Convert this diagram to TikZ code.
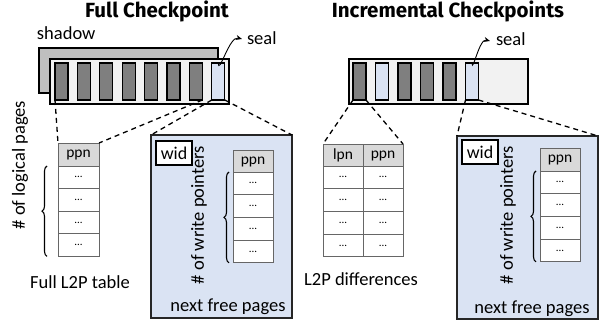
\documentclass[tikz,border=0pt]{standalone}
\usepackage{fontspec}
\setmainfont{Carlito}
\newfontfamily\ttlfamily{Fira Sans}
\usetikzlibrary{decorations.pathreplacing,arrows.meta}
\definecolor{lightblue}{HTML}{DAE3F3}
\definecolor{darkcell}{HTML}{7F7F7F}
\definecolor{shadowgray}{HTML}{BFBFBF}
\definecolor{framegray}{HTML}{F2F2F2}
\definecolor{headgray}{HTML}{D9D9D9}
\newcommand{\titlefnt}{\ttlfamily\fontsize{20.5}{24}\selectfont\bfseries}
\newcommand{\labfnt}{\fontsize{18.5}{21}\selectfont}
\newcommand{\widfnt}{\fontsize{18}{20}\selectfont}
\newcommand{\tabfnt}{\fontsize{15.5}{17}\selectfont}
\newcommand{\dotfnt}{\fontsize{11}{12}\selectfont}
\begin{document}
\begin{tikzpicture}[x=1pt,y=-1pt,
  every node/.style={inner sep=0pt, outer sep=0pt},
  framebox/.style={draw=black, line width=1.3pt, anchor=north west, minimum width=179pt, minimum height=45pt},
  cellbox/.style={draw=black, line width=1.3pt, minimum width=13pt, minimum height=37pt, anchor=north west},
  darkc/.style={cellbox, fill=darkcell},
  lightc/.style={cellbox, fill=lightblue},
  thead/.style={draw=black!60, line width=0.7pt, fill=headgray, minimum height=23pt, anchor=north west, font=\tabfnt},
  trow/.style={draw=black!60, line width=0.7pt, fill=white, minimum height=22.6pt, anchor=north west, font=\dotfnt},
  bluebox/.style={draw=black!85, line width=1.2pt, fill=lightblue, anchor=north west, minimum width=141pt, minimum height=183pt},
  widbox/.style={draw=black, line width=1.3pt, fill=white, anchor=north west, minimum width=36pt, minimum height=24pt, font=\widfnt},
  zoomline/.style={line width=1.3pt, dash pattern=on 5pt off 4pt},
  bracedeco/.style={decorate, decoration={brace, amplitude=5pt}, line width=1.1pt},
  sealarrow/.style={line width=0.9pt, -{Stealth[length=6pt,width=5pt]}},
  lab/.style={font=\labfnt},
  ttl/.style={font=\titlefnt}
]
\useasboundingbox (0,0) rectangle (606,326);

% titles
\node[ttl, anchor=base] (t1) at (157,17.5) {Full Checkpoint};
\node[ttl, anchor=base] (t2) at (448,17.5) {Incremental Checkpoints};

% ---------- Full checkpoint ----------
\node[lab, anchor=base west] (shadowlab) at (37,40) {shadow};
\node[framebox, fill=shadowgray] (S) at (39,48) {};
\node[framebox, fill=framegray] (F) at (50,59) {};
\foreach \i in {1,...,7}
  \node[darkc] (c\i) at ({55+22.4*(\i-1)},63) {};
\node[lightc] (c8) at ({55+22.4*7},63) {};
\node[lab, anchor=base west] (seal1) at (247,45) {seal};
\coordinate (tip1) at (242,39);
\draw[sealarrow] (c8.north) to[out=-88,in=165] (tip1);

% L2P table
\node[thead, minimum width=41pt] (Lh) at (58,143) {ppn};
\foreach \i in {1,...,4}
  \node[trow, minimum width=41pt] (L\i) at (58,{166+22.6*(\i-1)}) {...};
\draw[bracedeco] ([xshift=-11pt]L4.south west) -- ([xshift=-11pt]L1.north west);
\node[lab, rotate=90] (lp) at (20,165) {\# of logical pages};
\node[lab, anchor=base] (fl) at (80,288) {Full L2P table};

% blue box 1
\node[bluebox] (B1) at (151,135) {};
\node[widbox] (W1) at (156,141) {wid};
\node[thead, minimum width=40pt] (Ph) at (233,150) {ppn};
\foreach \i in {1,...,4}
  \node[trow, minimum width=40pt] (P\i) at (233,{172+22.75*(\i-1)}) {...};
\draw[bracedeco] ([xshift=-4pt]P4.south west) -- ([xshift=-4pt]P1.north west);
\node[lab, rotate=90] (wp1) at (199,215) {\# of write pointers};
\node[lab, anchor=base] (nf1) at (228,312) {next free pages};

% zoom lines
\draw[zoomline] (c1.south west) -- (Lh.north west);
\draw[zoomline] (c7.south east) -- (Lh.north east);
\draw[zoomline] (c8.south west) -- (B1.north west);
\draw[zoomline] (c8.south east) -- (B1.north east);

% ---------- Incremental checkpoints ----------
\node[framebox, fill=framegray] (G) at (349,59) {};
\node[darkc] (r1) at (353,63) {};
\node[lightc] (r2) at (375.5,63) {};
\node[darkc] (r3) at (398,63) {};
\node[darkc] (r4) at (420.5,63) {};
\node[darkc] (r5) at (443,63) {};
\node[lightc] (r6) at (465.5,63) {};
\node[lab, anchor=base west] (seal2) at (496,46) {seal};
\coordinate (tip2) at (490,41);
\draw[sealarrow] (r6.north) to[out=-88,in=165] (tip2);

% L2P differences
\node[thead, minimum width=40pt] (Dh1) at (323,144) {lpn};
\node[thead, minimum width=40pt] (Dh2) at (363,144) {ppn};
\foreach \i in {1,...,4} {
  \node[trow, minimum width=40pt] (D\i a) at (323,{166+22.75*(\i-1)}) {...};
  \node[trow, minimum width=40pt] (D\i b) at (363,{166+22.75*(\i-1)}) {...};
}
\node[lab, anchor=base] (ld) at (361,286) {L2P differences};

% blue box 2
\node[bluebox] (B2) at (457,136) {};
\node[widbox] (W2) at (462,140) {wid};
\node[thead, minimum width=40pt] (Qh) at (540,148) {ppn};
\foreach \i in {1,...,4}
  \node[trow, minimum width=40pt] (Q\i) at (540,{171+22.75*(\i-1)}) {...};
\draw[bracedeco] ([xshift=-4pt]Q4.south west) -- ([xshift=-4pt]Q1.north west);
\node[lab, rotate=90] (wp2) at (508,215) {\# of write pointers};
\node[lab, anchor=base] (nf2) at (532,313) {next free pages};

\draw[zoomline] (r1.south west) -- (Dh1.north west);
\draw[zoomline] (r1.south east) -- (Dh2.north east);
\draw[zoomline] (r6.south west) -- (B2.north west);
\draw[zoomline] (r6.south east) -- (B2.north east);
\end{tikzpicture}
\end{document}
